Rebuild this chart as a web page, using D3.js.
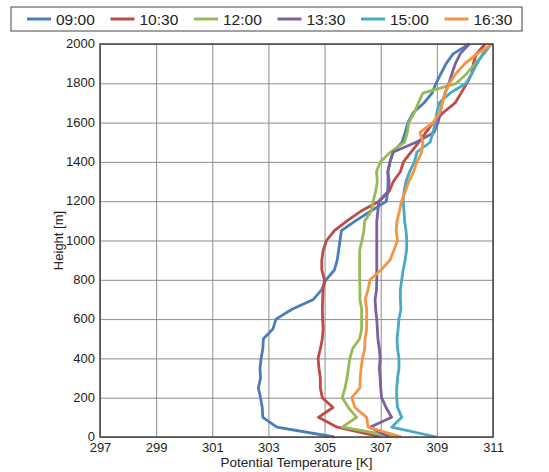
<!DOCTYPE html>
<html>
<head>
<meta charset="utf-8">
<script src="https://cdn.jsdelivr.net/npm/d3@7"></script>
<style>
  body { margin: 0; background: #fff; }
  svg { font-family: "Liberation Sans", Arial, sans-serif; }
  .grid line { stroke: #8c8c8c; stroke-width: 1; }
  .grid path { display: none; }
  .axis text { fill: #222; font-size: 13px; }
  .axis path, .axis line { display: none; }
</style>
</head>
<body>
<div class="graph"></div>
<script>
const w = 549;
const h = 472;
const margin = {top: 44, right: 56, bottom: 35, left: 100};

const times = ["09:00", "10:30", "12:00", "13:30", "15:00", "16:30"];
const colors = ["#4a7ebb", "#be4b48", "#98b954", "#7d60a0", "#46aac5", "#f59443"];

const xTicks = [297, 299, 301, 303, 305, 307, 309, 311];
const yTicks = [0, 200, 400, 600, 800, 1000, 1200, 1400, 1600, 1800, 2000];

// heights [m]
const heights = [0, 50, 100, 150, 200, 250, 300, 350, 400, 450, 500, 550, 600, 650, 700, 750, 800, 850, 900, 950,
                 1000, 1050, 1100, 1150, 1200, 1250, 1300, 1350, 1400, 1450, 1500, 1550, 1600, 1650, 1700, 1750, 1800, 1850, 1900, 1950, 2000];

// potential temperature [K] per launch time
const t0900 = [305.35, 303.3, 302.8, 302.78, 302.72, 302.64, 302.72, 302.7, 302.74, 302.8, 302.82, 303.16, 303.27, 303.84, 304.6, 304.9, 305.05, 305.35, 305.45, 305.5,
               305.55, 305.6, 306.1, 306.65, 307.2, 307.25, 307.26, 307.26, 307.33, 307.44, 307.76, 307.87, 307.97, 308.15, 308.54, 308.83, 308.97, 309.15, 309.33, 309.58, 310.15];
const t1030 = [307.0, 305.45, 304.78, 305.3, 304.92, 304.85, 304.85, 304.8, 304.77, 304.85, 304.92, 304.95, 304.93, 304.92, 304.93, 304.95, 305.0, 304.9, 304.9, 304.95,
               305.07, 305.35, 305.8, 306.3, 306.95, 307.3, 307.45, 307.7, 307.81, 308.08, 308.36, 308.61, 308.87, 309.22, 309.65, 309.86, 310.07, 310.25, 310.3, 310.41, 310.72];
const t1200 = [307.6, 305.63, 306.14, 305.85, 305.63, 305.73, 305.8, 305.85, 305.9, 306.0, 306.25, 306.32, 306.32, 306.32, 306.26, 306.26, 306.25, 306.25, 306.25, 306.25,
               306.33, 306.4, 306.43, 306.67, 306.73, 306.82, 306.88, 306.85, 306.98, 307.35, 307.85, 307.95, 308.0, 308.19, 308.34, 308.5, 309.7, 310.07, 310.36, 310.68, 310.93];
const t1330 = [307.3, 306.62, 307.39, 307.19, 307.03, 307.0, 306.98, 306.95, 306.98, 306.95, 306.9, 306.88, 306.86, 306.82, 306.8, 306.85, 306.86, 306.86, 306.86, 306.86,
               306.86, 306.86, 306.86, 306.9, 306.93, 307.26, 307.3, 307.25, 307.33, 307.45, 308.26, 308.9, 309.04, 309.13, 309.18, 309.29, 309.43, 309.54, 309.66, 309.83, 310.15];
const t1500 = [308.99, 307.39, 307.75, 307.6, 307.57, 307.57, 307.6, 307.65, 307.65, 307.6, 307.58, 307.62, 307.65, 307.72, 307.7, 307.7, 307.75, 307.8, 307.87, 307.92,
               307.93, 307.9, 307.85, 307.83, 307.8, 307.83, 307.9, 308.03, 308.2, 308.29, 308.76, 308.86, 308.95, 309.0, 309.08, 309.47, 310.04, 310.25, 310.43, 310.64, 310.93];
const t1630 = [307.75, 306.55, 306.5, 306.08, 305.97, 306.26, 306.27, 306.3, 306.35, 306.43, 306.44, 306.5, 306.5, 306.5, 306.45, 306.55, 306.62, 307.01, 307.33, 307.47,
               307.6, 307.55, 307.58, 307.67, 307.74, 307.88, 308.0, 308.17, 308.29, 308.46, 308.5, 308.4, 308.86, 309.11, 309.2, 309.29, 309.45, 309.68, 310.0, 310.43, 310.97];

const series = [t0900, t1030, t1200, t1330, t1500, t1630];

const svg = d3.select(".graph")
              .append("svg")
              .attr("width", w)
              .attr("height", h);

const xScale = d3.scaleLinear()
                 .domain([297, 311])
                 .range([margin.left, w - margin.right]);

const yScale = d3.scaleLinear()
                 .domain([0, 2000])
                 .range([h - margin.bottom, margin.top]);

const plotW = w - margin.left - margin.right;
const plotH = h - margin.top - margin.bottom;

// grid
svg.append("g")
   .attr("class", "grid")
   .attr("transform", `translate(0, ${h - margin.bottom})`)
   .call(d3.axisBottom(xScale).tickValues(xTicks).tickSize(-plotH).tickFormat(""));

svg.append("g")
   .attr("class", "grid")
   .attr("transform", `translate(${margin.left}, 0)`)
   .call(d3.axisLeft(yScale).tickValues(yTicks).tickSize(-plotW).tickFormat(""));

// profiles
const line = d3.line()
               .x(d => xScale(d[0]))
               .y(d => yScale(d[1]));

svg.append("g")
   .selectAll("path")
   .data(series)
   .enter().append("path")
   .attr("d", s => line(s.map((t, i) => [t, heights[i]])))
   .attr("fill", "none")
   .attr("stroke", (s, i) => colors[i])
   .attr("stroke-width", 2.8)
   .attr("stroke-linejoin", "round");

// frame
svg.append("rect")
   .attr("x", margin.left)
   .attr("y", margin.top)
   .attr("width", plotW)
   .attr("height", plotH)
   .attr("fill", "none")
   .attr("stroke", "#444")
   .attr("stroke-width", 1.5);

// axes
svg.append("g")
   .attr("class", "axis")
   .attr("transform", `translate(0, ${h - margin.bottom})`)
   .call(d3.axisBottom(xScale).tickValues(xTicks).tickSize(0).tickFormat(d3.format("d")))
   .selectAll("text").attr("y", 15).attr("dy", 0);

svg.append("g")
   .attr("class", "axis")
   .attr("transform", `translate(${margin.left}, 0)`)
   .call(d3.axisLeft(yScale).tickValues(yTicks).tickSize(0).tickPadding(5).tickFormat(d3.format("d")))
   .selectAll("text").attr("dy", "0.28em");

svg.append("text")
   .attr("x", xScale(304))
   .attr("y", 467)
   .attr("text-anchor", "middle")
   .attr("font-size", 13.5)
   .attr("fill", "#222")
   .text("Potential Temperature [K]");

svg.append("text")
   .attr("transform", `translate(63, ${yScale(1000)}) rotate(-90)`)
   .attr("text-anchor", "middle")
   .attr("font-size", 13)
   .attr("fill", "#222")
   .text("Height [m]");

// legend
const legend = svg.append("g").attr("id", "legend");

legend.append("rect")
      .attr("x", 11)
      .attr("y", 7)
      .attr("width", 511)
      .attr("height", 24)
      .attr("fill", "#fff")
      .attr("stroke", "#444")
      .attr("stroke-width", 1);

const legendX = d3.scaleBand()
                  .domain(times)
                  .range([27, 27 + 83.5 * times.length]);

const item = legend.selectAll("g.item")
                   .data(times)
                   .enter().append("g")
                   .attr("class", "item")
                   .attr("transform", d => `translate(${legendX(d)}, 19)`);

item.append("line")
    .attr("x1", 0)
    .attr("x2", 24)
    .attr("stroke", (d, i) => colors[i])
    .attr("stroke-width", 3);

item.append("text")
    .attr("x", 29)
    .attr("dy", "0.36em")
    .attr("font-size", 15.5)
    .attr("fill", "#222")
    .text(d => d);
</script>
</body>
</html>
